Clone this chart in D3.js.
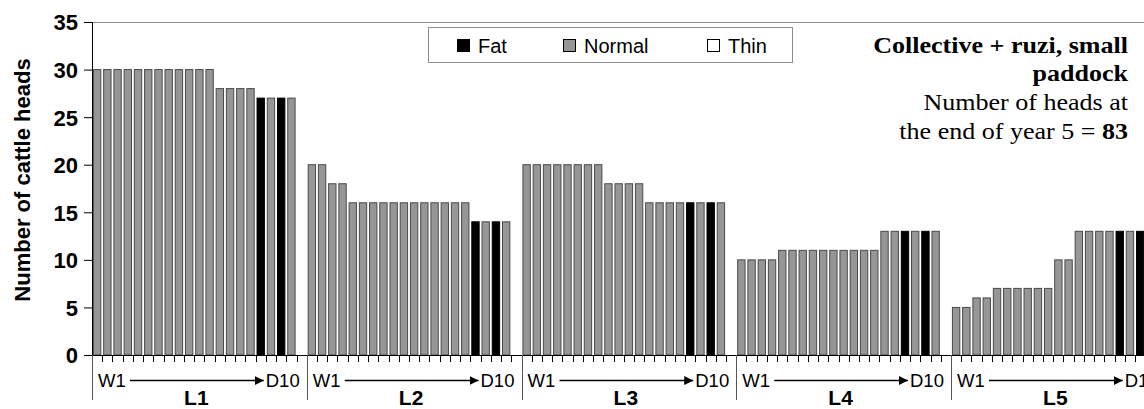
<!DOCTYPE html>
<html>
<head>
<meta charset="utf-8">
<script src="https://cdn.jsdelivr.net/npm/d3@7"></script>
<style>
  html, body { margin: 0; padding: 0; background: #fff; }
  svg { display: block; }
</style>
</head>
<body>
<svg id="chart" width="1144" height="409"></svg>
<script>
// ---------------- data ----------------
const groups = ["L1", "L2", "L3", "L4", "L5"];
const slotLabels = ["W1", "D10"];
const yTicks = [0, 5, 10, 15, 20, 25, 30, 35];
const legendItems = ["Fat", "Normal", "Thin"];

const headsL1 = [30,30,30,30,30,30,30,30,30,30,30,30,28,28,28,28,27,27,27,27];
const headsL2 = [20,20,18,18,16,16,16,16,16,16,16,16,16,16,16,16,14,14,14,14];
const headsL3 = [20,20,20,20,20,20,20,20,18,18,18,18,16,16,16,16,16,16,16,16];
const headsL4 = [10,10,10,10,11,11,11,11,11,11,11,11,11,11,13,13,13,13,13,13];
const headsL5 = [5,5,6,6,7,7,7,7,7,7,10,10,13,13,13,13,13,13,13,13];

const condL1 = ["Normal","Normal","Normal","Normal","Normal","Normal","Normal","Normal","Normal","Normal","Normal","Normal","Normal","Normal","Normal","Normal","Fat","Normal","Fat","Normal"];
const condL2 = ["Normal","Normal","Normal","Normal","Normal","Normal","Normal","Normal","Normal","Normal","Normal","Normal","Normal","Normal","Normal","Normal","Fat","Normal","Fat","Normal"];
const condL3 = ["Normal","Normal","Normal","Normal","Normal","Normal","Normal","Normal","Normal","Normal","Normal","Normal","Normal","Normal","Normal","Normal","Fat","Normal","Fat","Normal"];
const condL4 = ["Normal","Normal","Normal","Normal","Normal","Normal","Normal","Normal","Normal","Normal","Normal","Normal","Normal","Normal","Normal","Normal","Fat","Normal","Fat","Normal"];
const condL5 = ["Normal","Normal","Normal","Normal","Normal","Normal","Normal","Normal","Normal","Normal","Normal","Normal","Normal","Normal","Normal","Normal","Fat","Normal","Fat","Normal"];

const headsByGroup = [headsL1, headsL2, headsL3, headsL4, headsL5];
const condByGroup = [condL1, condL2, condL3, condL4, condL5];
const slotsPerGroup = 21; // 20 weeks/days + 1 empty slot

// ---------------- layout ----------------
const svg = d3.select("#chart");
const W = 1144, H = 409;
const plotLeft = 92, plotTop = 22, plotBottom = 355;
const step = (951 - plotLeft) / (4 * slotsPerGroup);

const colors = { Fat: "#000000", Normal: "#969696", Thin: "#ffffff" };

const bars = [];
groups.forEach((g, gi) => {
  headsByGroup[gi].forEach((v, i) => {
    bars.push({ group: g, slot: gi * slotsPerGroup + i, value: v, cond: condByGroup[gi][i] });
  });
});
const slotIds = d3.range(groups.length * slotsPerGroup);

const x = d3.scaleBand()
  .domain(slotIds)
  .range([plotLeft, plotLeft + slotIds.length * step])
  .paddingInner(0.28)
  .paddingOuter(0.14);

const y = d3.scaleLinear().domain([0, 35]).range([plotBottom, plotTop]);

// top border of plot area
svg.append("line")
  .attr("x1", plotLeft).attr("x2", W)
  .attr("y1", y(35) + 0.5).attr("y2", y(35) + 0.5)
  .attr("stroke", "#8c8c8c").attr("stroke-width", 1);

// bars
svg.append("g").selectAll("rect")
  .data(bars)
  .join("rect")
  .attr("x", d => x(d.slot))
  .attr("width", x.bandwidth())
  .attr("y", d => y(d.value))
  .attr("height", d => y(0) - y(d.value))
  .attr("fill", d => colors[d.cond])
  .attr("stroke", d => d.cond === "Fat" ? "#000" : "#4a4a4a")
  .attr("stroke-width", 1);

// y axis
const yAxis = d3.axisLeft(y).tickValues(yTicks).tickSize(8).tickPadding(6);
const yg = svg.append("g").attr("transform", `translate(${plotLeft},0)`).call(yAxis);
yg.select(".domain").remove();
yg.selectAll(".tick line").attr("stroke", "#000");
yg.selectAll(".tick text")
  .attr("font-family", "Liberation Sans, Arial, sans-serif")
  .attr("font-weight", "bold")
  .attr("font-size", 22)
  .attr("fill", "#000")
  .attr("dy", "0.36em");
svg.append("line")
  .attr("x1", plotLeft + 0.5).attr("x2", plotLeft + 0.5)
  .attr("y1", plotTop).attr("y2", 400)
  .attr("stroke", "#000");

// y title
svg.append("text")
  .attr("transform", `translate(30,180) rotate(-90)`)
  .attr("text-anchor", "middle")
  .attr("font-family", "Liberation Sans, Arial, sans-serif")
  .attr("font-weight", "bold")
  .attr("font-size", 22)
  .text("Number of cattle heads");

// x axis: ticks at slot boundaries
const boundaryScale = d3.scaleLinear().domain([0, slotIds.length]).range([plotLeft, plotLeft + slotIds.length * step]);
const boundaries = d3.range(slotIds.length + 1);
svg.append("line")
  .attr("x1", plotLeft).attr("x2", W)
  .attr("y1", plotBottom + 0.5).attr("y2", plotBottom + 0.5)
  .attr("stroke", "#000");
svg.append("g").selectAll("line")
  .data(boundaries)
  .join("line")
  .attr("x1", d => Math.round(boundaryScale(d)) + 0.5)
  .attr("x2", d => Math.round(boundaryScale(d)) + 0.5)
  .attr("y1", plotBottom)
  .attr("y2", d => d % slotsPerGroup === 0 ? 400 : plotBottom + 7)
  .attr("stroke", d => d % slotsPerGroup === 0 ? "#555" : "#000");

// group labels
svg.append("defs").append("marker")
  .attr("id", "arrow")
  .attr("viewBox", "0 0 10 10")
  .attr("refX", 10).attr("refY", 5)
  .attr("markerWidth", 9).attr("markerHeight", 9)
  .attr("markerUnits", "userSpaceOnUse")
  .attr("orient", "auto")
  .append("path").attr("d", "M0,0 L10,5 L0,10 Z").attr("fill", "#000");

groups.forEach((g, gi) => {
  const gx0 = boundaryScale(gi * slotsPerGroup);
  const gx1 = boundaryScale((gi + 1) * slotsPerGroup);
  const gg = svg.append("g");
  gg.append("text")
    .attr("x", gx0 + 6).attr("y", 387)
    .attr("font-family", "Liberation Sans, Arial, sans-serif")
    .attr("font-size", 18.5)
    .text(slotLabels[0]);
  gg.append("text")
    .attr("x", gx1 - 41).attr("y", 387)
    .attr("font-family", "Liberation Sans, Arial, sans-serif")
    .attr("font-size", 18.5)
    .text(slotLabels[1]);
  gg.append("line")
    .attr("x1", gx0 + 38).attr("x2", gx1 - 43)
    .attr("y1", 380.5).attr("y2", 380.5)
    .attr("stroke", "#000").attr("stroke-width", 1.5)
    .attr("marker-end", "url(#arrow)");
  gg.append("text")
    .attr("x", (gx0 + gx1) / 2 - 3).attr("y", 405)
    .attr("text-anchor", "middle")
    .attr("font-family", "Liberation Sans, Arial, sans-serif")
    .attr("font-weight", "bold")
    .attr("font-size", 21)
    .text(g);
});

// legend
const lg = svg.append("g");
lg.append("rect")
  .attr("x", 428.5).attr("y", 27.5).attr("width", 364).attr("height", 35)
  .attr("fill", "#fff").attr("stroke", "#8c8c8c");
const legendX = [457, 563, 707];
legendItems.forEach((name, i) => {
  lg.append("rect")
    .attr("x", legendX[i] + 0.5).attr("y", 39.5).attr("width", 12).attr("height", 12)
    .attr("fill", colors[name]).attr("stroke", "#000");
  lg.append("text")
    .attr("x", legendX[i] + 21).attr("y", 53)
    .attr("font-family", "Liberation Sans, Arial, sans-serif")
    .attr("font-size", 20)
    .text(name);
});

// annotation
const ann = svg.append("g").attr("transform", "translate(1128,0) scale(1.085,1)")
  .append("text")
  .attr("text-anchor", "end")
  .attr("font-family", "Liberation Serif, Times New Roman, serif")
  .attr("font-size", 24)
  .attr("fill", "#000");
ann.append("tspan").attr("x", 0).attr("y", 53).attr("font-weight", "bold").text("Collective + ruzi, small");
ann.append("tspan").attr("x", 0).attr("y", 81).attr("font-weight", "bold").text("paddock");
ann.append("tspan").attr("x", 0).attr("y", 110).text("Number of heads at");
const l4 = ann.append("tspan").attr("x", 0).attr("y", 139);
l4.append("tspan").text("the end of year 5 = ");
l4.append("tspan").attr("font-weight", "bold").text("83");
</script>
</body>
</html>
